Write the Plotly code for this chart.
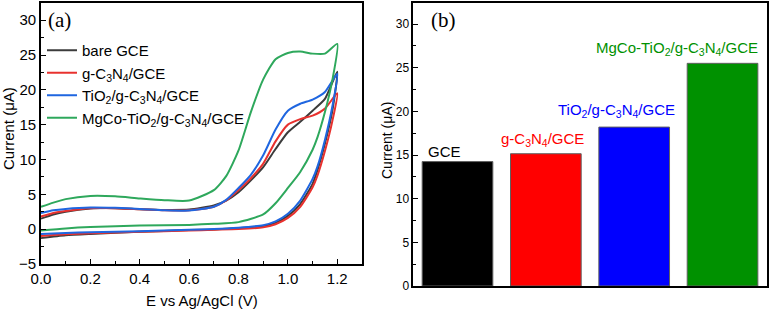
import plotly.graph_objects as go

# ---------------- data ----------------
series_names = ["bare GCE", "g-C<sub>3</sub>N<sub>4</sub>/GCE",
                "TiO<sub>2</sub>/g-C<sub>3</sub>N<sub>4</sub>/GCE",
                "MgCo-TiO<sub>2</sub>/g-C<sub>3</sub>N<sub>4</sub>/GCE"]

fwd_E = [0.0, 0.05, 0.1, 0.2, 0.3, 0.4, 0.5, 0.6, 0.7, 0.75, 0.8, 0.85, 0.9, 0.95, 1.0, 1.05, 1.1, 1.15, 1.2]
rev_E = [1.2, 1.18, 1.15, 1.12, 1.1, 1.05, 1.0, 0.95, 0.9, 0.8, 0.7, 0.6, 0.4, 0.2, 0.1, 0.0]

bare_fwd = [1.5, 2.1, 2.5, 2.95, 3.0, 2.85, 2.75, 2.8, 3.4, 4.1, 5.3, 7.0, 8.9, 11.5, 13.9, 15.4, 17.0, 18.7, 22.6]
bare_rev = [22.6, 17.0, 12.3, 8.5, 6.5, 3.6, 1.9, 0.9, 0.45, 0.15, -0.05, -0.15, -0.4, -0.7, -0.9, -1.3]

gcn_fwd = [1.8, 2.3, 2.6, 3.0, 3.0, 2.85, 2.7, 2.7, 3.2, 4.1, 5.6, 7.3, 9.4, 12.6, 15.0, 15.8, 16.3, 17.3, 19.5]
gcn_rev = [19.5, 15.5, 11.2, 7.7, 6.0, 3.2, 1.6, 0.7, 0.25, 0.0, -0.1, -0.2, -0.4, -0.6, -0.75, -1.0]

tio_fwd = [2.3, 2.7, 2.9, 3.1, 3.05, 2.9, 2.7, 2.65, 3.2, 4.2, 5.9, 7.8, 10.6, 14.3, 17.0, 18.0, 18.6, 19.7, 22.3]
tio_rev = [22.3, 17.6, 12.8, 9.0, 7.2, 4.1, 2.2, 1.1, 0.55, 0.2, 0.0, -0.1, -0.3, -0.45, -0.55, -0.7]

mgco_fwd = [3.2, 3.8, 4.3, 4.75, 4.7, 4.4, 4.15, 4.1, 5.6, 7.6, 11.3, 16.8, 21.5, 24.4, 25.3, 25.5, 25.2, 25.2, 26.6]
mgco_rev = [26.6, 21.4, 16.8, 13.2, 11.4, 8.2, 5.9, 3.7, 2.1, 1.0, 0.75, 0.6, 0.5, 0.3, 0.1, -0.2]

bar_categories = ["GCE", "g-C<sub>3</sub>N<sub>4</sub>/GCE",
                  "TiO<sub>2</sub>/g-C<sub>3</sub>N<sub>4</sub>/GCE",
                  "MgCo-TiO<sub>2</sub>/g-C<sub>3</sub>N<sub>4</sub>/GCE"]
bar_values = [14.25, 15.15, 18.2, 25.5]

x_title_a = "E vs Ag/AgCl (V)"
y_title = "Current (μA)"

# ---------------- styles ----------------
line_colors = ["#3c3c3c", "#e8312e", "#1f66e0", "#2ea85c"]
bar_colors = ["#000000", "#ff0000", "#0000ff", "#009100"]
SANS = "Liberation Sans, Arial, sans-serif"
SERIF = "Liberation Serif, Times New Roman, serif"

fig = go.Figure()

fwd_all = [bare_fwd, gcn_fwd, tio_fwd, mgco_fwd]
rev_all = [bare_rev, gcn_rev, tio_rev, mgco_rev]
for name, f, r, c in zip(series_names, fwd_all, rev_all, line_colors):
    fig.add_trace(go.Scatter(
        x=fwd_E + rev_E[1:], y=f + r[1:], mode="lines", name=name,
        line=dict(color=c, width=2, shape="spline", smoothing=0.6),
        xaxis="x", yaxis="y"))

fig.add_trace(go.Bar(
    x=list(range(len(bar_values))), y=bar_values, marker=dict(color=bar_colors, line=dict(color="#606060", width=1)),
    width=0.8, showlegend=False, xaxis="x2", yaxis="y2"))

# bar labels placed relative to bar tops
label_dx = [-0.15, -0.035, -0.2, -0.513]
label_dy = [1.15, 1.6, 1.85, 1.75]
for i, (lab, v, c) in enumerate(zip(bar_categories, bar_values, bar_colors)):
    fig.add_annotation(x=i + label_dx[i], y=v + label_dy[i], xref="x2", yref="y2",
                       text=lab, showarrow=False, font=dict(color=c, size=15, family=SANS),
                       xanchor="center", yanchor="middle")

# panel labels
fig.add_annotation(x=0.078, y=0.935, xref="paper", yref="paper", text="(a)", showarrow=False,
                   font=dict(family=SERIF, size=21, color="black"), xanchor="center", yanchor="middle")
fig.add_annotation(x=0.577, y=0.935, xref="paper", yref="paper", text="(b)", showarrow=False,
                   font=dict(family=SERIF, size=21, color="black"), xanchor="center", yanchor="middle")

# axis titles
fig.add_annotation(x=201.5 / 769, y=1 - 300 / 309, xref="paper", yref="paper", text=x_title_a,
                   showarrow=False, font=dict(family=SANS, size=15, color="black"),
                   xanchor="center", yanchor="middle")
fig.add_annotation(x=8 / 769, y=1 - 129 / 309, xref="paper", yref="paper", text=y_title,
                   showarrow=False, textangle=-90, font=dict(family=SANS, size=15, color="black"),
                   xanchor="center", yanchor="middle")
fig.add_annotation(x=387 / 769, y=1 - 141 / 309, xref="paper", yref="paper", text=y_title,
                   showarrow=False, textangle=-90, font=dict(family=SANS, size=14, color="black"),
                   xanchor="center", yanchor="middle")

axis_common = dict(showline=True, linecolor="black", linewidth=1.6, mirror=True, ticks="inside",
                   tickcolor="black", ticklen=5, tickwidth=1.2, showgrid=False, zeroline=False,
                   automargin=False)

fig.update_layout(
    width=769, height=309, margin=dict(l=0, r=0, t=0, b=0, autoexpand=False),
    plot_bgcolor="white", paper_bgcolor="white",
    font=dict(family=SANS, color="black"),
    xaxis=dict(domain=[0.0533, 0.4707], range=[0, 1.3], dtick=0.2, tick0=0, tickformat=".1f",
               tickfont=dict(size=15),
               minor=dict(ticks="inside", dtick=0.1, ticklen=3, tickcolor="black"), **axis_common),
    yaxis=dict(domain=[0.146, 0.9887], range=[-5, 32.4], dtick=5, tick0=0,
               tickfont=dict(size=15),
               minor=dict(ticks="inside", dtick=2.5, ticklen=3, tickcolor="black"), **axis_common),
    xaxis2=dict(domain=[0.5375, 0.997], range=[-0.5, 3.5], showticklabels=False,
                showline=True, linecolor="black", linewidth=1.6, mirror=True, ticks="",
                showgrid=False, zeroline=False, anchor="y2", automargin=False),
    yaxis2=dict(domain=[0.0744, 0.990], range=[0, 32.4], dtick=5, tick0=0, anchor="x2",
                tickfont=dict(size=12),
                minor=dict(ticks="inside", dtick=2.5, ticklen=3, tickcolor="black"), **axis_common),
    legend=dict(x=0.0546, y=0.89, xanchor="left", yanchor="top", bgcolor="rgba(0,0,0,0)",
                font=dict(size=15, family=SANS), tracegroupgap=0, itemwidth=30),
    bargap=0.2,
)

fig.write_html("out.html")
